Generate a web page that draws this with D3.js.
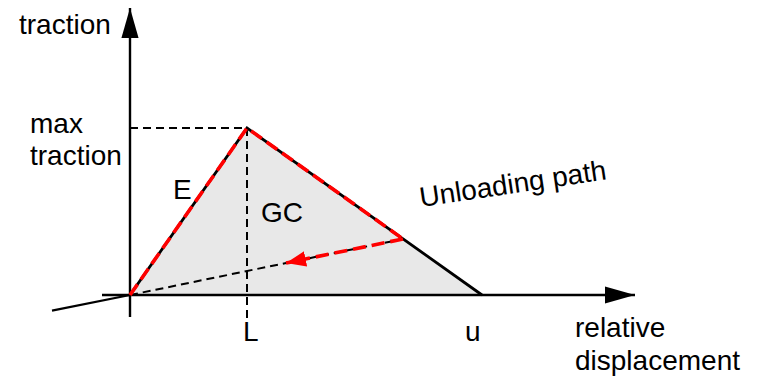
<html>
<head>
<script src="https://d3js.org/d3.v7.min.js"></script>
<style>
  body { margin: 0; background: #fff; }
  text { font-family: "Liberation Sans", Arial, Helvetica, sans-serif; font-size: 28px; fill: #000; }
</style>
</head>
<body>
<svg id="chart" width="759" height="377"></svg>
<script>
// values (x = relative displacement, y = traction)
const axisEnd = [505, 287];          // x and y arrow tips
const axisStart = [-28, -22];        // where each axis line begins
const peak = [117, 167];             // L, max traction
const uValue = 352;                  // final separation u
const unloadPoint = [273, 56];       // where unloading starts
const unloadTail = [-78, -15.6];     // solid stub behind origin
const unloadArrowTip = [156, 32];    // red arrow tip
const triangleX = [0, peak[0], uValue];
const triangleY = [0, peak[1], 0];
const redX = [0, peak[0], unloadPoint[0]];
const redY = [0, peak[1], unloadPoint[1]];

const svg = d3.select('svg#chart');
const x = d3.scaleLinear().domain([0, axisEnd[0]]).range([130, 635]);
const y = d3.scaleLinear().domain([0, axisEnd[1]]).range([295, 8]);

const defs = svg.append('defs');
defs.append('marker').attr('id', 'blackHead')
  .attr('markerUnits', 'userSpaceOnUse')
  .attr('markerWidth', 30).attr('markerHeight', 18)
  .attr('viewBox', '0 0 28 16').attr('refX', 28).attr('refY', 8)
  .attr('orient', 'auto')
  .append('path').attr('d', 'M0,0 L28,8 L0,16 Z').attr('fill', '#000');
defs.append('marker').attr('id', 'redHead')
  .attr('markerUnits', 'userSpaceOnUse')
  .attr('markerWidth', 20).attr('markerHeight', 16)
  .attr('viewBox', '0 0 18 14').attr('refX', 18).attr('refY', 7)
  .attr('orient', 'auto')
  .append('path').attr('d', 'M0,0 L18,7 L0,14 Z').attr('fill', '#ff0000');

const line = d3.line().x(d => x(d[0])).y(d => y(d[1]));
const tri = triangleX.map((v, i) => [v, triangleY[i]]);

// shaded area (GC)
svg.append('path').attr('d', line(tri) + 'Z').attr('fill', '#e8e8e8');

// dashed guides
const dashed = [
  [[0, peak[1]], peak],
  [peak, [peak[0], -23]],
  [[0, 0], unloadPoint]
];
dashed.forEach(seg => {
  svg.append('path').attr('d', line(seg))
    .attr('stroke', '#000').attr('stroke-width', 2)
    .attr('stroke-dasharray', '8,5').attr('fill', 'none');
});

// axes
svg.append('path').attr('d', line([[axisStart[0], 0], [axisEnd[0], 0]]))
  .attr('stroke', '#000').attr('stroke-width', 2.4).attr('fill', 'none')
  .attr('marker-end', 'url(#blackHead)');
svg.append('path').attr('d', line([[0, axisStart[1]], [0, axisEnd[1]]]))
  .attr('stroke', '#000').attr('stroke-width', 2.4).attr('fill', 'none')
  .attr('marker-end', 'url(#blackHead)');

// solid stub of the unloading line behind origin
svg.append('path').attr('d', line([unloadTail, [0, 0]]))
  .attr('stroke', '#000').attr('stroke-width', 2.2).attr('fill', 'none');

// traction-separation law
svg.append('path').attr('d', line(tri))
  .attr('stroke', '#000').attr('stroke-width', 2.8).attr('fill', 'none')
  .attr('stroke-linejoin', 'miter');

// red loading / unloading path
const red = redX.map((v, i) => [v, redY[i]]);
svg.append('path').attr('d', line(red))
  .attr('stroke', '#ff0000').attr('stroke-width', 3.6)
  .attr('stroke-dasharray', '13,6').attr('fill', 'none');
svg.append('path').attr('d', line([unloadPoint, unloadArrowTip]))
  .attr('stroke', '#ff0000').attr('stroke-width', 3.6)
  .attr('stroke-dasharray', '13,6').attr('fill', 'none')
  .attr('marker-end', 'url(#redHead)');

// labels
const labels = [
  { t: 'traction', px: 19, py: 34 },
  { t: 'max', px: 30, py: 133 },
  { t: 'traction', px: 30, py: 165 },
  { t: 'E', px: 173, py: 199 },
  { t: 'GC', px: 261, py: 222 },
  { t: 'L', px: x(peak[0]) - 4, py: 341 },
  { t: 'u', px: x(uValue) - 17, py: 341 },
  { t: 'relative', px: 575, py: 337 },
  { t: 'displacement', px: 575, py: 370 }
];
svg.selectAll('text.lab').data(labels).join('text')
  .attr('class', 'lab')
  .attr('x', d => d.px).attr('y', d => d.py)
  .text(d => d.t);

svg.append('text')
  .attr('transform', 'translate(421,207) rotate(-8.5)')
  .text('Unloading path');
</script>
</body>
</html>
